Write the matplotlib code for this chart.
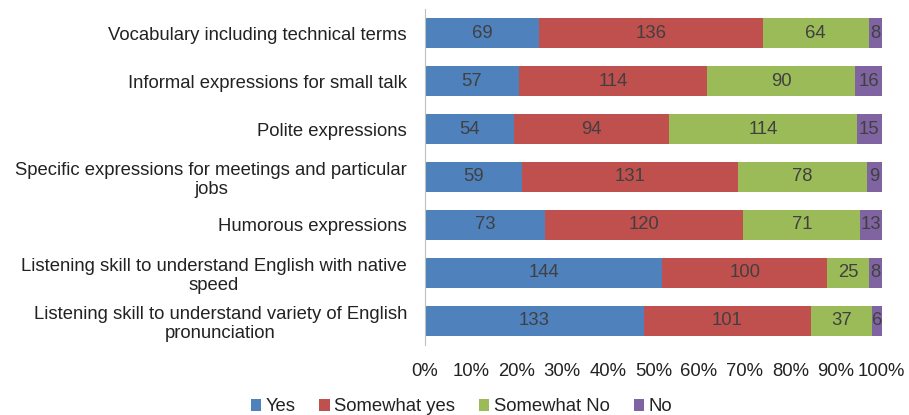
import numpy as np
import matplotlib.pyplot as plt
from matplotlib.ticker import PercentFormatter

plt.rcParams['font.family'] = ['Liberation Sans', 'DejaVu Sans']

categories = [
    "Vocabulary including technical terms",
    "Informal expressions for small talk",
    "Polite expressions",
    "Specific expressions for meetings and particular\njobs",
    "Humorous expressions",
    "Listening skill to understand English with native\nspeed",
    "Listening skill to understand variety of English\npronunciation",
]
series = ["Yes", "Somewhat yes", "Somewhat No", "No"]
yes = [69, 57, 54, 59, 73, 144, 133]
somewhat_yes = [136, 114, 94, 131, 120, 100, 101]
somewhat_no = [64, 90, 114, 78, 71, 25, 37]
no = [8, 16, 15, 9, 13, 8, 6]
colors = ["#4F81BD", "#C0504D", "#9BBB59", "#8064A2"]

data = np.array([yes, somewhat_yes, somewhat_no, no], dtype=float)
totals = data.sum(axis=0)
shares = data / totals

fs = 13.3

fig = plt.figure(figsize=(9.09, 4.15), dpi=100)
ax = fig.add_axes([0.4675, 0.169, 0.5025, 0.809])

y = np.arange(len(categories))
left = np.zeros(len(categories))
for i, name in enumerate(series):
    bars = ax.barh(y, shares[i], left=left, height=0.62, color=colors[i], label=name)
    for j, b in enumerate(bars):
        ax.text(left[j] + shares[i][j] / 2, y[j], "%d" % data[i][j],
                ha="center", va="center", fontsize=fs, color="#404040")
    left += shares[i]

ax.set_xlim(0, 1)
ax.set_ylim(len(categories) - 0.5, -0.5)
ax.set_yticks(y)
ax.set_yticklabels(categories, fontsize=fs, color="#222222", linespacing=1.15)
for lbl in ax.get_yticklabels():
    lbl.set_multialignment("center")
ax.set_xticks(np.linspace(0, 1, 11))
ax.xaxis.set_major_formatter(PercentFormatter(1.0, decimals=0))
ax.tick_params(axis="x", length=0, labelsize=fs, labelcolor="#222222", pad=13)
ax.tick_params(axis="y", length=0, pad=13)
for s in ["top", "right", "bottom"]:
    ax.spines[s].set_visible(False)
ax.spines["left"].set_color("#BFBFBF")

ax.legend(loc="center", bbox_to_anchor=(0.08, -0.185), ncol=4, frameon=False,
          fontsize=fs, handlelength=0.55, handleheight=0.55, handletextpad=0.25,
          columnspacing=1.3, labelcolor="#222222")

fig.savefig("out.png", dpi=100)
